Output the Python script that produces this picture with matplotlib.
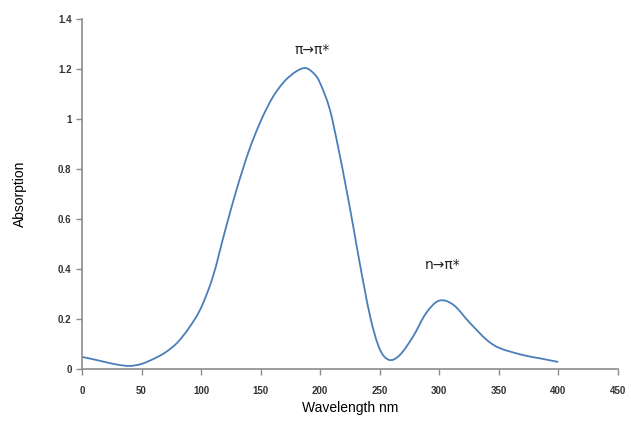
import numpy as np
import matplotlib
matplotlib.use("Agg")
import matplotlib.pyplot as plt
from matplotlib.path import Path
from matplotlib.patches import PathPatch
from matplotlib.ticker import MultipleLocator, FuncFormatter

# valores
wavelength = [0, 10, 20, 30, 40, 50, 60, 70, 80, 90, 100, 110, 120, 130, 140,
              150, 160, 170, 180, 188, 195, 200, 208, 215, 222, 228, 233, 242,
              250, 258, 267, 278, 289, 300, 312, 326, 340, 351, 370, 385, 400]
absorption = [0.048, 0.038, 0.027, 0.017, 0.012, 0.02, 0.04, 0.066, 0.105, 0.165,
              0.245, 0.37, 0.55, 0.72, 0.87, 0.99, 1.085, 1.15, 1.19, 1.203,
              1.18, 1.143, 1.04, 0.89, 0.72, 0.565, 0.43, 0.21, 0.08,
              0.036, 0.056, 0.129, 0.223, 0.273, 0.256, 0.183, 0.116, 0.083,
              0.056, 0.042, 0.028]

etiquetas = ["π→π*", "n→π*"]
etiq_x = [193, 303]
etiq_y = [1.275, 0.415]


def curva_suave(x, y):
    # linea suavizada tipo Excel: bezier cubica por los puntos
    p = np.column_stack([x, y]).astype(float)
    verts = [p[0]]
    codes = [Path.MOVETO]
    n = len(p)
    for i in range(n - 1):
        p0 = p[i - 1] if i > 0 else p[i]
        p3 = p[i + 2] if i + 2 < n else p[i + 1]
        c1 = p[i] + (p[i + 1] - p0) / 6
        c2 = p[i + 1] - (p3 - p[i]) / 6
        verts += [c1, c2, p[i + 1]]
        codes += [Path.CURVE4] * 3
    return Path(verts, codes)


plt.rcParams['font.family'] = ['Liberation Sans', 'DejaVu Sans']

fig = plt.figure(figsize=(6.31, 4.28), dpi=100)
ax = fig.add_axes([0.130, 0.138, 0.849, 0.818])

ax.add_patch(PathPatch(curva_suave(wavelength, absorption), fill=False,
                       edgecolor='#4a7ebb', lw=1.3))

for t, x, y in zip(etiquetas, etiq_x, etiq_y):
    ax.text(x, y, t, ha='center', va='center', fontsize=10, color='#222222',
            family=['DejaVu Sans'])

ax.set_xlim(0, 450)
ax.set_ylim(0, 1.4)
ax.xaxis.set_major_locator(MultipleLocator(50))
ax.yaxis.set_major_locator(MultipleLocator(0.2))
ax.yaxis.set_major_formatter(FuncFormatter(lambda v, p: f"{v:g}"))

for s in ['top', 'right']:
    ax.spines[s].set_visible(False)
for s in ['left', 'bottom']:
    ax.spines[s].set_color('#8c8c8c')
    ax.spines[s].set_linewidth(1.2)

ax.tick_params(direction='out', length=4, width=1, color='#8c8c8c',
               labelsize=7, labelcolor='#333333')
ax.tick_params(axis='x', pad=8)
for lab in ax.get_xticklabels() + ax.get_yticklabels():
    lab.set_fontweight('bold')

ax.set_xlabel('Wavelength nm', fontsize=10, labelpad=4)
ax.set_ylabel('Absorption', fontsize=10, labelpad=22)

fig.savefig('out.png', dpi=100)
